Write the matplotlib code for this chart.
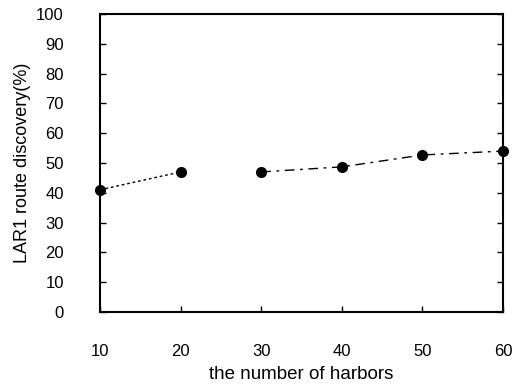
import matplotlib.pyplot as plt

plt.rcParams['font.family'] = ['Liberation Sans', 'DejaVu Sans']

# two measured runs, no link between 20 and 30
harbors_a = [10, 20]
discovery_a = [41, 47]
harbors_b = [30, 40, 50, 60]
discovery_b = [47, 48.7, 52.7, 54]

fig = plt.figure(figsize=(5.27, 3.86), dpi=100)
ax = fig.add_axes([100 / 527, 1 - 312 / 386, 403 / 527, 298 / 386])

ax.plot(harbors_a, discovery_a, color='black', linestyle=(0, (2, 2)), linewidth=1,
        marker='o', markersize=7, clip_on=False)
ax.plot(harbors_b, discovery_b, color='black', linestyle=(0, (7, 4, 2, 4)), linewidth=1,
        marker='o', markersize=7, clip_on=False)

ax.set_xlim(10, 60)
ax.set_ylim(0, 100)
ax.set_xticks(range(10, 61, 10))
ax.set_yticks(range(0, 101, 10))
ax.tick_params(direction='in', length=4, width=1, labelsize=12)
ax.tick_params(axis='y', right=True, pad=26)
ax.tick_params(axis='x', pad=23)
for s in ax.spines.values():
    s.set_linewidth(1.5)

ax.set_xlabel('the number of harbors', fontsize=13.5, labelpad=5)
ax.set_ylabel('LAR1 route discovery(%)', fontsize=13, labelpad=4)

plt.savefig('out.png', dpi=100)
